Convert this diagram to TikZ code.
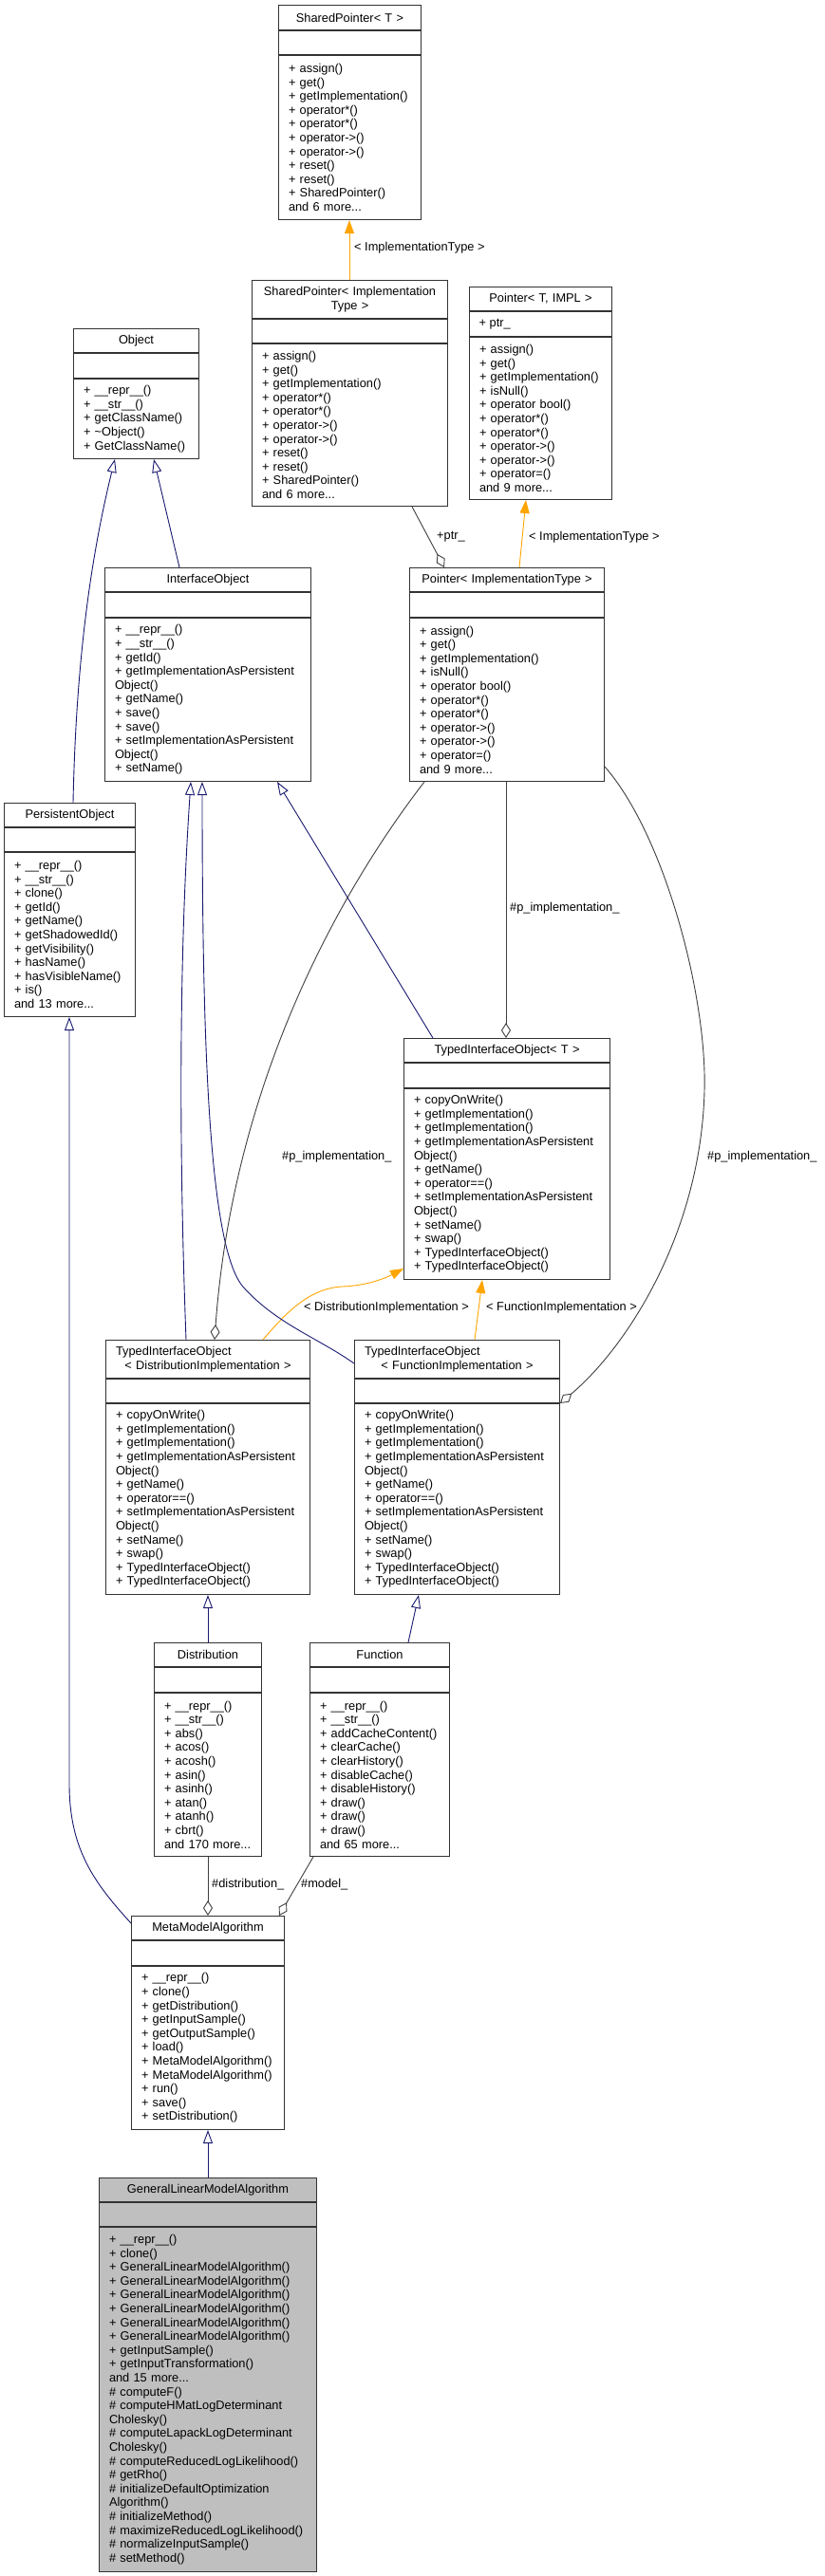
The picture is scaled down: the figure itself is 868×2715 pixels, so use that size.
\documentclass[tikz,border=0pt]{standalone}
\usepackage{fontspec}
\setmainfont{Liberation Sans}
\usepackage{tikz}
\usetikzlibrary{positioning,arrows.meta}

\definecolor{inhblue}{HTML}{191970}
\definecolor{aggrgray}{HTML}{404040}
\definecolor{tmplorange}{HTML}{FFA500}

\tikzset{
  clsbox/.style={rectangle, draw=black!80, line width=1pt, fill=white, anchor=north west,
    inner xsep=10.5pt, inner ysep=0pt, font=\fontsize{12.8}{14.6}\selectfont},
  lbl/.style={inner sep=0pt, anchor=west, font=\fontsize{12.8}{14.6}\selectfont},
  inherit/.style={draw=inhblue, line width=0.9pt, -{Triangle[open, length=14pt, width=10pt, fill=white]}},
  aggr/.style={draw=aggrgray, line width=0.9pt, -{Diamond[open, length=16pt, width=10pt, fill=white]}},
  tmpl/.style={draw=tmplorange, line width=0.9pt, -{Triangle[length=14pt, width=10pt]}}
}

% class box: [extra style]{name}{(left,top)}{width}{title h}{attr h}{member h}{title}{members}
\newcommand{\umlclass}[9][]{%
  \pgfmathsetmacro{\clstw}{#4-21}%
  \node[clsbox, #1, minimum width=#4pt, minimum height=#5pt, text width=\clstw pt, align=center] (#2) at #3 {#8};
  \node[clsbox, #1, minimum width=#4pt, minimum height=#6pt, below=0pt of #2.south west, anchor=north west] (#2-a) {};
  \node[clsbox, #1, minimum width=#4pt, minimum height=#7pt, text width=\clstw pt, align=left,
    below=0pt of #2-a.south west, anchor=north west] (#2-m) {#9};
}

\begin{document}
\begin{tikzpicture}[x=1pt, y=-1pt]
    \fill[white] (0,0) rectangle (868,2715);

    % Pointer classes
    \umlclass{spT}{(293,5)}{150}{26}{25}{173}{SharedPointer<~T~>}
      {+~assign()\\+~get()\\+~getImplementation()\\+~operator*()\\+~operator*()\\+~operator->()\\+~operator->()\\+~reset()\\+~reset()\\+~SharedPointer()\\and 6 more...}
    \umlclass{spI}{(265,295)}{206}{40}{25}{171}{SharedPointer<~Implementation\\Type~>}
      {+~assign()\\+~get()\\+~getImplementation()\\+~operator*()\\+~operator*()\\+~operator->()\\+~operator->()\\+~reset()\\+~reset()\\+~SharedPointer()\\and 6 more...}
    \umlclass{ptrT}{(494,302)}{150}{25}{26}{171}{Pointer<~T,~IMPL~>}
      {+~assign()\\+~get()\\+~getImplementation()\\+~isNull()\\+~operator~bool()\\+~operator*()\\+~operator*()\\+~operator->()\\+~operator->()\\+~operator=()\\and 9 more...}
    \node[lbl] (ptrT-ptr) at ([xshift=10.5pt]ptrT-a.west) {+~ptr\_};
    \umlclass{ptrI}{(431,598)}{205}{25}{26}{172}{Pointer<~ImplementationType~>}
      {+~assign()\\+~get()\\+~getImplementation()\\+~isNull()\\+~operator~bool()\\+~operator*()\\+~operator*()\\+~operator->()\\+~operator->()\\+~operator=()\\and 9 more...}

    % Object hierarchy
    \umlclass{obj}{(77,346)}{132}{25}{26}{84}{Object}
      {+~\_\_repr\_\_()\\+~\_\_str\_\_()\\+~getClassName()\\+~\textasciitilde Object()\\+~GetClassName()}
    \umlclass{iobj}{(110,598)}{217}{25}{26}{172}{InterfaceObject}
      {+~\_\_repr\_\_()\\+~\_\_str\_\_()\\+~getId()\\+~getImplementationAsPersistent\\Object()\\+~getName()\\+~save()\\+~save()\\+~setImplementationAsPersistent\\Object()\\+~setName()}
    \umlclass{pobj}{(4,846)}{138}{25}{25}{173}{PersistentObject}
      {+~\_\_repr\_\_()\\+~\_\_str\_\_()\\+~clone()\\+~getId()\\+~getName()\\+~getShadowedId()\\+~getVisibility()\\+~hasName()\\+~hasVisibleName()\\+~is()\\and 13 more...}

    % Typed interface objects
    \umlclass{tioT}{(425,1094)}{217}{25}{26}{201}{TypedInterfaceObject<~T~>}
      {+~copyOnWrite()\\+~getImplementation()\\+~getImplementation()\\+~getImplementationAsPersistent\\Object()\\+~getName()\\+~operator==()\\+~setImplementationAsPersistent\\Object()\\+~setName()\\+~swap()\\+~TypedInterfaceObject()\\+~TypedInterfaceObject()}
    \umlclass{tioD}{(111,1412)}{215}{40}{25}{201}{\makebox[\clstw pt][l]{TypedInterfaceObject}\\<~DistributionImplementation~>}
      {+~copyOnWrite()\\+~getImplementation()\\+~getImplementation()\\+~getImplementationAsPersistent\\Object()\\+~getName()\\+~operator==()\\+~setImplementationAsPersistent\\Object()\\+~setName()\\+~swap()\\+~TypedInterfaceObject()\\+~TypedInterfaceObject()}
    \umlclass{tioF}{(373,1412)}{216}{40}{25}{201}{\makebox[\clstw pt][l]{TypedInterfaceObject}\\<~FunctionImplementation~>}
      {+~copyOnWrite()\\+~getImplementation()\\+~getImplementation()\\+~getImplementationAsPersistent\\Object()\\+~getName()\\+~operator==()\\+~setImplementationAsPersistent\\Object()\\+~setName()\\+~swap()\\+~TypedInterfaceObject()\\+~TypedInterfaceObject()}

    % Distribution, Function, algorithms
    \umlclass{dist}{(162,1731)}{113}{25}{26}{172}{Distribution}
      {+~\_\_repr\_\_()\\+~\_\_str\_\_()\\+~abs()\\+~acos()\\+~acosh()\\+~asin()\\+~asinh()\\+~atan()\\+~atanh()\\+~cbrt()\\and 170 more...}
    \umlclass{func}{(326,1731)}{147}{25}{26}{172}{Function}
      {+~\_\_repr\_\_()\\+~\_\_str\_\_()\\+~addCacheContent()\\+~clearCache()\\+~clearHistory()\\+~disableCache()\\+~disableHistory()\\+~draw()\\+~draw()\\+~draw()\\and 65 more...}
    \umlclass{mma}{(138,2019)}{161}{25}{26}{172}{MetaModelAlgorithm}
      {+~\_\_repr\_\_()\\+~clone()\\+~getDistribution()\\+~getInputSample()\\+~getOutputSample()\\+~load()\\+~MetaModelAlgorithm()\\+~MetaModelAlgorithm()\\+~run()\\+~save()\\+~setDistribution()}
    \umlclass[fill=black!25]{glma}{(104,2295)}{229}{25}{25}{363}{GeneralLinearModelAlgorithm}
      {+~\_\_repr\_\_()\\+~clone()\\+~GeneralLinearModelAlgorithm()\\+~GeneralLinearModelAlgorithm()\\+~GeneralLinearModelAlgorithm()\\+~GeneralLinearModelAlgorithm()\\+~GeneralLinearModelAlgorithm()\\+~GeneralLinearModelAlgorithm()\\+~getInputSample()\\+~getInputTransformation()\\and 15 more...\\\#~computeF()\\\#~computeHMatLogDeterminant\\Cholesky()\\\#~computeLapackLogDeterminant\\Cholesky()\\\#~computeReducedLogLikelihood()\\\#~getRho()\\\#~initializeDefaultOptimization\\Algorithm()\\\#~initializeMethod()\\\#~maximizeReducedLogLikelihood()\\\#~normalizeInputSample()\\\#~setMethod()}

    % Template instantiations
    \draw[tmpl] ([xshift=103pt]spI.north west) -- ([xshift=75pt]spT-m.south west);
    \draw[tmpl] ([xshift=116pt]ptrI.north west) -- ([xshift=60pt]ptrT-m.south west);
    \draw[tmpl] ([xshift=166pt]tioD.north west) .. controls (300,1385) and (325,1358) .. (360,1356)
        .. controls (390,1355) and (410,1345) .. ([yshift=12pt]tioT-m.south west);
    \draw[tmpl] ([xshift=127pt]tioF.north west) -- ([xshift=83pt]tioT-m.south west);
    \node[lbl] (l-spT) at (373,261) {<~ImplementationType~>};
    \node[lbl] (l-ptrT) at (557,566) {<~ImplementationType~>};
    \node[lbl] (l-tioD) at (320,1378) {<~DistributionImplementation~>};
    \node[lbl] (l-tioF) at (512,1378) {<~FunctionImplementation~>};

    % Inheritance
    \draw[inherit] ([xshift=79pt]iobj.north west) -- ([xshift=85pt]obj-m.south west);
    \draw[inherit] ([xshift=73pt]pobj.north west) .. controls (80,700) and (95,590) .. ([xshift=44pt]obj-m.south west);
    \draw[inherit] ([xshift=85pt]tioD.north west) .. controls (188,1200) and (189,1000) .. ([xshift=91pt]iobj-m.south west);
    \draw[inherit] ([yshift=-25pt]tioF.north west) .. controls (335,1410) and (290,1395) .. (255,1355)
        .. controls (220,1310) and (213,1100) .. ([xshift=103pt]iobj-m.south west);
    \draw[inherit] ([xshift=31pt]tioT.north west) -- ([xshift=182pt]iobj-m.south west);
    \draw[inherit] (dist.north) -- ([xshift=108pt]tioD-m.south west);
    \draw[inherit] ([xshift=104pt]func.north west) -- ([xshift=68pt]tioF-m.south west);
    \draw[inherit] ([yshift=-8pt]mma.north west) .. controls (100,1985) and (73,1950) .. (73,1880)
        -- ([xshift=69pt]pobj-m.south west);
    \draw[inherit] (glma.north) -- (mma-m.south);

    % Members
    \draw[aggr] ([xshift=169pt]spI-m.south west) -- ([xshift=37pt]ptrI.north west);
    \draw[aggr] ([xshift=102pt]ptrI-m.south west) -- ([xshift=108pt]tioT.north west);
    \draw[aggr] ([xshift=16pt]ptrI-m.south west) .. controls (350,950) and (245,1150) .. ([xshift=115pt]tioD.north west);
    \draw[aggr] ([yshift=16pt]ptrI-m.south east) .. controls (700,880) and (745,1050) .. (742,1150)
        .. controls (738,1300) and (660,1420) .. (tioF-a.south east);
    \draw[aggr] (dist-m.south) -- (mma.north);
    \draw[aggr] ([xshift=4pt]func-m.south west) -- ([xshift=-6pt]mma.north east);
    \node[lbl] (l-ptr) at (460,566) {+ptr\_};
    \node[lbl] (l-pimpl) at (537,957) {\#p\_implementation\_};
    \node[lbl] (l-pimplD) at (297,1219) {\#p\_implementation\_};
    \node[lbl] (l-pimplF) at (745,1219) {\#p\_implementation\_};
    \node[lbl] (l-dist) at (223,1986) {\#distribution\_};
    \node[lbl] (l-model) at (317,1986) {\#model\_};
\end{tikzpicture}
\end{document}
